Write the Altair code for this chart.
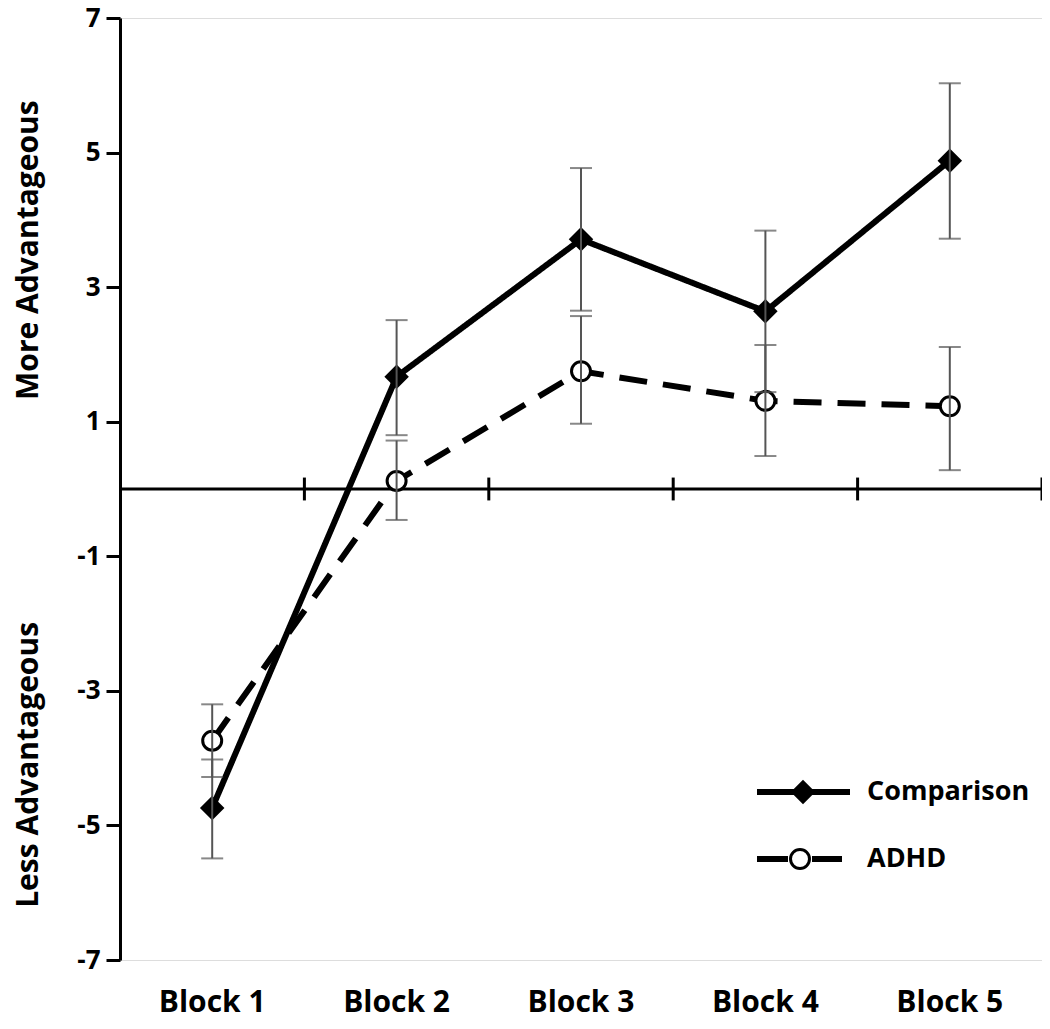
import altair as alt
import pandas as pd

blocks = ["Block 1", "Block 2", "Block 3", "Block 4", "Block 5"]
series = ["Comparison", "ADHD"]
comp_mean = [-4.74, 1.67, 3.71, 2.64, 4.88]
comp_lo = [-5.49, 0.80, 2.65, 1.44, 3.72]
comp_hi = [-4.02, 2.51, 4.77, 3.84, 6.03]
adhd_mean = [-3.74, 0.12, 1.75, 1.31, 1.23]
adhd_lo = [-4.28, -0.46, 0.97, 0.49, 0.28]
adhd_hi = [-3.20, 0.72, 2.57, 2.14, 2.11]
y_ticks = [-7, -5, -3, -1, 1, 3, 5, 7]

rows = []
for i, b in enumerate(blocks):
    rows.append({"block": b, "series": "Comparison", "mean": comp_mean[i], "lo": comp_lo[i], "hi": comp_hi[i]})
    rows.append({"block": b, "series": "ADHD", "mean": adhd_mean[i], "lo": adhd_lo[i], "hi": adhd_hi[i]})
df = pd.DataFrame(rows)

FONT = "Open Sans"
W, H = 922, 942

xenc = alt.X(
    "block:N",
    sort=blocks,
    scale=alt.Scale(type="band", domain=blocks, paddingInner=0, paddingOuter=0),
    axis=alt.Axis(title=None, domain=False, ticks=False, labelAngle=0, labelAlign="center",
                  bandPosition=0.5, labelFont=FONT, labelFontSize=30, labelFontWeight="bold",
                  labelColor="black", labelPadding=42),
)
yscale = alt.Scale(domain=[-7, 7], nice=False, zero=False)
yaxis = alt.Axis(values=y_ticks, title=None, grid=False, tickSize=14, tickWidth=3, tickColor="black",
                 domainWidth=3, domainColor="black", labelFont=FONT, labelFontSize=26,
                 labelExpr="datum.value < 0 ? '-' + abs(datum.value) : '' + datum.value",
                 labelFontWeight="bold", labelColor="black", labelPadding=6)

base = alt.Chart(df)

lines = base.mark_line(color="black", strokeWidth=6).encode(
    x=xenc,
    y=alt.Y("mean:Q", scale=yscale, axis=yaxis),
    strokeDash=alt.StrokeDash("series:N", scale=alt.Scale(domain=series, range=[[1, 0], [28, 16]]), legend=None),
    detail="series:N",
)

diamonds = base.transform_filter(alt.datum.series == "Comparison").mark_point(
    shape="diamond", filled=True, color="black", size=600, opacity=1
).encode(x=xenc, y=alt.Y("mean:Q", scale=yscale))

circles = base.transform_filter(alt.datum.series == "ADHD").mark_point(
    shape="circle", filled=True, fill="white", stroke="black", strokeWidth=3, size=360, opacity=1
).encode(x=xenc, y=alt.Y("mean:Q", scale=yscale))

err = base.mark_rule(color="#555555", strokeWidth=2).encode(
    x=xenc, y=alt.Y("lo:Q", scale=yscale), y2="hi:Q"
)
cap_lo = base.mark_tick(color="#555555", thickness=2, size=22).encode(x=xenc, y=alt.Y("lo:Q", scale=yscale))
cap_hi = base.mark_tick(color="#555555", thickness=2, size=22).encode(x=xenc, y=alt.Y("hi:Q", scale=yscale))

zero = alt.Chart(pd.DataFrame({"z": [0]})).mark_rule(color="black", strokeWidth=3).encode(
    y=alt.Y("z:Q", scale=yscale)
)
xticks = alt.Chart(pd.DataFrame({"block": blocks})).mark_rule(color="black", strokeWidth=3).encode(
    x=alt.X("block:N", sort=blocks, bandPosition=1),
    y=alt.datum(-0.17),
    y2=alt.datum(0.17),
)

titles = alt.Chart(pd.DataFrame({"t": ["More Advantageous", "Less Advantageous"], "v": [3.55, -4.1]})).mark_text(
    angle=270, font=FONT, fontSize=30, fontWeight="bold", color="black", align="center", baseline="middle"
).encode(x=alt.value(-91), y=alt.Y("v:Q", scale=yscale), text="t:N")

# legend
leg_c_line = alt.Chart(pd.DataFrame({"s": ["Comparison"]})).mark_rule(color="black", strokeWidth=6).encode(
    x=alt.value(637), x2=alt.value(730), y=alt.value(774))
leg_c_pt = alt.Chart(pd.DataFrame({"s": ["Comparison"]})).mark_point(
    shape="diamond", filled=True, color="black", size=600, opacity=1).encode(x=alt.value(683), y=alt.value(774))
leg_a_line1 = alt.Chart(pd.DataFrame({"s": ["ADHD"]})).mark_rule(color="black", strokeWidth=6).encode(
    x=alt.value(637), x2=alt.value(668), y=alt.value(841))
leg_a_line2 = alt.Chart(pd.DataFrame({"s": ["ADHD"]})).mark_rule(color="black", strokeWidth=6).encode(
    x=alt.value(692), x2=alt.value(722), y=alt.value(841))
leg_a_pt = alt.Chart(pd.DataFrame({"s": ["ADHD"]})).mark_point(
    shape="circle", filled=True, fill="white", stroke="black", strokeWidth=3, size=360, opacity=1).encode(
    x=alt.value(680), y=alt.value(841))
leg_text = alt.Chart(pd.DataFrame({"s": series, "yy": [774, 841]})).mark_text(
    font=FONT, fontSize=27, fontWeight="bold", color="black", align="left", baseline="middle").encode(
    x=alt.value(747), y=alt.Y("yy:Q", scale=None), text="s:N")

chart = alt.layer(
    zero, xticks, lines, diamonds, circles, err, cap_lo, cap_hi, titles,
    leg_c_line, leg_c_pt, leg_a_line1, leg_a_line2, leg_a_pt, leg_text
).properties(
    width=W, height=H, autosize=alt.AutoSizeParams(type="none"),
    padding={"left": 112, "top": 10, "right": 0, "bottom": 70},
).configure_view(stroke=None).configure(background="white")

chart.save("out.html", embed_options={"renderer": "svg", "actions": False})
